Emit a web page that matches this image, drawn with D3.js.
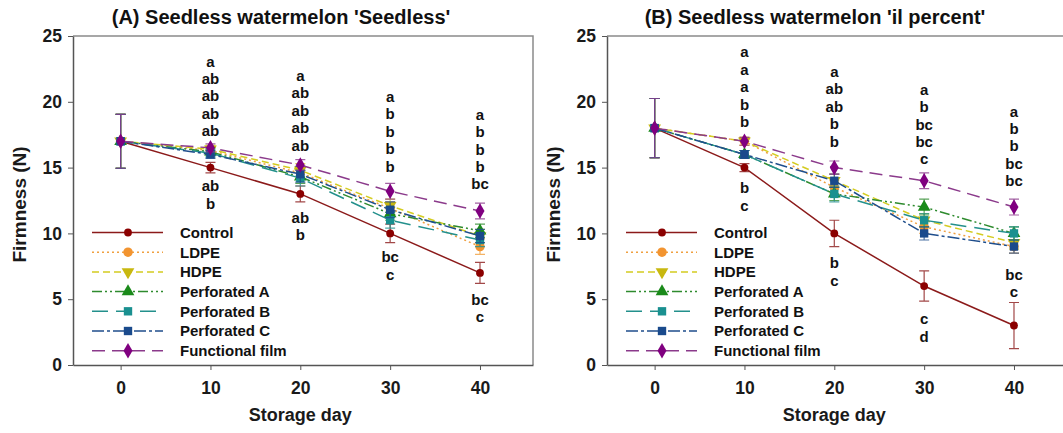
<!DOCTYPE html>
<html>
<head>
    <title>Firmness of seedless watermelon</title>
    <meta charset="utf-8">
    <script src="https://d3js.org/d3.v7.min.js"></script>
    <style>
        body { margin: 0; background: #fff; }
        text { font-family: "Liberation Sans", Arial, sans-serif; font-weight: bold; }
    </style>
</head>
<body>
<div class="chart-area"></div>
<script type="text/javascript">
    // storage days and tick values
    var days = [0, 10, 20, 30, 40];
    var yTicks = [0, 5, 10, 15, 20, 25];
    var seriesNames = ["Control", "LDPE", "HDPE", "Perforated A", "Perforated B", "Perforated C", "Functional film"];

    // (A) 'Seedless' firmness (N)
    var controlA = [17, 15.0, 13.0, 10.0, 7.0];
    var ldpeA    = [17, 16.3, 14.6, 11.9, 9.0];
    var hdpeA    = [17, 16.4, 14.8, 12.1, 9.8];
    var perfAA   = [17, 16.2, 14.3, 11.5, 10.2];
    var perfBA   = [17, 16.1, 14.2, 11.0, 9.5];
    var perfCA   = [17, 16.0, 14.5, 11.8, 9.8];
    var funcA    = [17, 16.5, 15.2, 13.2, 11.7];
    // standard errors
    var errControlA = [2.05, 0.4, 0.6, 0.7, 0.8];
    var errLdpeA    = [2.05, 0.3, 0.5, 0.5, 0.6];
    var errHdpeA    = [2.05, 0.3, 0.5, 0.5, 0.5];
    var errPerfAA   = [2.05, 0.3, 0.5, 0.5, 0.5];
    var errPerfBA   = [2.05, 0.3, 0.6, 0.6, 0.5];
    var errPerfCA   = [2.05, 0.3, 0.6, 0.6, 0.5];
    var errFuncA    = [2.05, 0.3, 0.4, 0.6, 0.6];

    // (B) 'il percent' firmness (N)
    var controlB = [18, 15, 10.0, 6.0, 3.0];
    var ldpeB    = [18, 17, 13.5, 10.5, 9.0];
    var hdpeB    = [18, 17, 14.0, 11.0, 9.3];
    var perfAB   = [18, 16, 13.0, 12.0, 10.0];
    var perfBB   = [18, 16, 13.0, 11.0, 10.0];
    var perfCB   = [18, 16, 14.0, 10.0, 9.0];
    var funcB    = [18, 17, 15.0, 14.0, 12.0];
    var errControlB = [2.25, 0.3, 1.0, 1.15, 1.75];
    var errLdpeB    = [2.25, 0.3, 0.5, 0.5, 0.5];
    var errHdpeB    = [2.25, 0.3, 0.5, 0.5, 0.5];
    var errPerfAB   = [2.25, 0.3, 0.5, 0.6, 0.5];
    var errPerfBB   = [2.25, 0.3, 0.6, 0.5, 0.5];
    var errPerfCB   = [2.25, 0.3, 0.5, 0.5, 0.5];
    var errFuncB    = [2.25, 0.3, 0.5, 0.6, 0.6];

    // significance letters (day 10..40), above and below each cluster
    var lettersTopA = [["a","ab","ab","ab","ab"], ["a","ab","ab","ab","ab"], ["a","b","b","b","b"], ["a","b","b","b","bc"]];
    var lettersBotA = [["ab","b"], ["ab","b"], ["bc","c"], ["bc","c"]];
    var letterTopAtA = [17.8, 16.7, 15.1, 13.75];
    var letterBotAtA = [13.6, 11.2, 8.2, 5.0];

    var lettersTopB = [["a","a","a","b","b"], ["a","ab","ab","b","b"], ["a","b","bc","bc","c"], ["a","b","b","bc","bc"]];
    var lettersBotB = [["b","c"], ["b","c"], ["c","d"], ["bc","c"]];
    var letterTopAtB = [18.5, 17.0, 15.65, 14.0];
    var letterBotAtB = [13.45, 7.75, 3.5, 6.9];

    var colors  = ["#8b1a1a", "#f0a040", "#d4cc20", "#2e8b2e", "#23908c", "#1f4e8c", "#8b3a8b"];
    var marks   = ["#8b0000", "#f29430", "#c8b810", "#1a8a1a", "#1a9090", "#1a4a8c", "#800080"];
    var dashes  = [null, "2,3", "7,4", "10,3,2,3,2,3", "16,8", "12,3,3,3", "13,7"];
    var symbols = [d3.symbolCircle, d3.symbolCircle, d3.symbolTriangle, d3.symbolTriangle, d3.symbolSquare, d3.symbolSquare, d3.symbolDiamond];
    var symRot  = [0, 0, 180, 0, 0, 0, 0];

    var svg = d3.select(".chart-area")
        .append("svg")
        .attr("width", 1063)
        .attr("height", 433);

    var plotW = 460, plotH = 329, marginTop = 36;

    function drawPanel(left, title, values, errs, lTop, lBot, lTopAt, lBotAt) {
        var x = d3.scaleLinear().domain([-5.3, 45.9]).range([0, plotW]);
        var y = d3.scaleLinear().domain([0, 25]).range([plotH, 0]);

        var g = svg.append("g")
            .attr("transform", "translate(" + left + "," + marginTop + ")");

        // frame top / right
        g.append("path")
            .attr("d", "M0,0H" + plotW + "V" + plotH)
            .attr("fill", "none")
            .attr("stroke", "#8a8a8a")
            .attr("stroke-width", 1.5);

        var xAxis = g.append("g")
            .attr("transform", "translate(0," + plotH + ")")
            .call(d3.axisBottom(x).tickValues(days).tickSize(5).tickPadding(12).tickSizeOuter(0));
        var yAxis = g.append("g")
            .call(d3.axisLeft(y).tickValues(yTicks).tickSize(5).tickPadding(6).tickSizeOuter(0));
        [xAxis, yAxis].forEach(function(a) {
            a.selectAll(".domain").attr("stroke", "#555").attr("stroke-width", 1.5);
            a.selectAll(".tick line").attr("stroke", "#555");
            a.selectAll("text")
                .style("font-size", "17.5px")
                .style("font-weight", "bold")
                .attr("fill", "#1a1a1a");
        });

        g.append("text")
            .attr("x", 208)
            .attr("y", -12)
            .attr("text-anchor", "middle")
            .style("font-size", "20px")
            .attr("fill", "#111")
            .text(title);

        g.append("text")
            .attr("x", x(20))
            .attr("y", plotH + 56)
            .attr("text-anchor", "middle")
            .style("font-size", "18px")
            .attr("fill", "#1a1a1a")
            .text("Storage day");

        g.append("text")
            .attr("transform", "translate(-47," + (y(12.2)) + ") rotate(-90)")
            .attr("text-anchor", "middle")
            .style("font-size", "19px")
            .attr("fill", "#1a1a1a")
            .text("Firmness (N)");

        var line = d3.line()
            .x(function(d, i) { return x(days[i]); })
            .y(function(d) { return y(d); });

        values.forEach(function(vals, s) {
            var sg = g.append("g");
            sg.append("path")
                .datum(vals)
                .attr("d", line)
                .attr("fill", "none")
                .attr("stroke", colors[s])
                .attr("stroke-width", 1.5)
                .attr("stroke-dasharray", dashes[s]);

            sg.selectAll(".err")
                .data(vals)
                .enter()
                .append("path")
                .attr("d", function(d, i) {
                    var cx = x(days[i]), y1 = y(d - errs[s][i]), y2 = y(d + errs[s][i]);
                    return "M" + (cx - 5) + "," + y1 + "H" + (cx + 5) + "M" + cx + "," + y1 + "V" + y2 +
                        "M" + (cx - 5) + "," + y2 + "H" + (cx + 5);
                })
                .attr("fill", "none")
                .attr("stroke", colors[s])
                .attr("stroke-opacity", 0.8)
                .attr("stroke-width", 1.2);

            sg.selectAll(".pt")
                .data(vals)
                .enter()
                .append("path")
                .attr("d", d3.symbol().type(symbols[s]).size(s == 0 ? 48 : 70))
                .attr("transform", function(d, i) {
                    return "translate(" + x(days[i]) + "," + y(d) + ") rotate(" + symRot[s] + ")";
                })
                .attr("fill", marks[s]);
        });

        // letters
        lTop.forEach(function(col, k) {
            var cx = x(days[k + 1]);
            col.forEach(function(t, j) {
                g.append("text")
                    .attr("x", cx)
                    .attr("y", y(lTopAt[k]) - (col.length - 1 - j) * 17.4)
                    .attr("dy", "0.36em")
                    .attr("text-anchor", "middle")
                    .style("font-size", "15px")
                    .attr("fill", "#111")
                    .text(t);
            });
        });
        lBot.forEach(function(col, k) {
            var cx = x(days[k + 1]);
            col.forEach(function(t, j) {
                g.append("text")
                    .attr("x", cx)
                    .attr("y", y(lBotAt[k]) + j * 17.4)
                    .attr("dy", "0.36em")
                    .attr("text-anchor", "middle")
                    .style("font-size", "15px")
                    .attr("fill", "#111")
                    .text(t);
            });
        });

        // legend
        var lg = g.append("g").attr("transform", "translate(0,196.5)");
        seriesNames.forEach(function(name, s) {
            var ly = s * 19.7;
            lg.append("line")
                .attr("x1", 19).attr("x2", 90)
                .attr("y1", ly).attr("y2", ly)
                .attr("stroke", colors[s])
                .attr("stroke-width", 1.5)
                .attr("stroke-dasharray", dashes[s]);
            lg.append("path")
                .attr("d", d3.symbol().type(symbols[s]).size(s == 0 ? 48 : 70))
                .attr("transform", "translate(55," + ly + ") rotate(" + symRot[s] + ")")
                .attr("fill", marks[s]);
            lg.append("text")
                .attr("x", 107)
                .attr("y", ly)
                .attr("dy", "0.36em")
                .style("font-size", "15px")
                .attr("fill", "#111")
                .text(name);
        });
    }

    drawPanel(73, "(A) Seedless watermelon 'Seedless'",
        [controlA, ldpeA, hdpeA, perfAA, perfBA, perfCA, funcA],
        [errControlA, errLdpeA, errHdpeA, errPerfAA, errPerfBA, errPerfCA, errFuncA],
        lettersTopA, lettersBotA, letterTopAtA, letterBotAtA);

    drawPanel(607, "(B) Seedless watermelon 'il percent'",
        [controlB, ldpeB, hdpeB, perfAB, perfBB, perfCB, funcB],
        [errControlB, errLdpeB, errHdpeB, errPerfAB, errPerfBB, errPerfCB, errFuncB],
        lettersTopB, lettersBotB, letterTopAtB, letterBotAtB);
</script>
</body>
</html>
